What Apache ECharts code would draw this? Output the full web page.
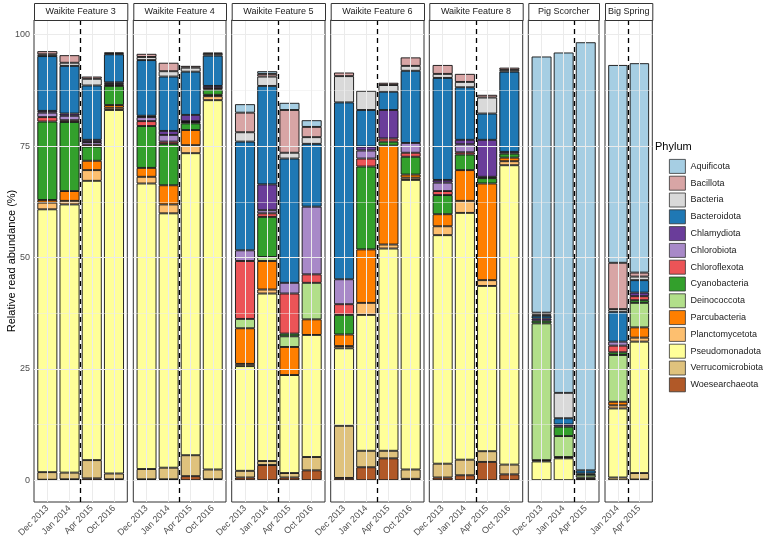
<!DOCTYPE html>
<html><head><meta charset="utf-8">
<script src="https://cdn.jsdelivr.net/npm/echarts@6/dist/echarts.min.js"></script>
<style>html,body{margin:0;padding:0;background:#fff}#c{width:767px;height:542px}</style>
</head><body><div id="c"></div>
<script>
// ---------- DATA ----------
const facets = ['Waikite Feature 3','Waikite Feature 4','Waikite Feature 5','Waikite Feature 6','Waikite Feature 8','Pig Scorcher','Big Spring'];
const facetDates = [
  ['Dec 2013','Jan 2014','Apr 2015','Oct 2016'],
  ['Dec 2013','Jan 2014','Apr 2015','Oct 2016'],
  ['Dec 2013','Jan 2014','Apr 2015','Oct 2016'],
  ['Dec 2013','Jan 2014','Apr 2015','Oct 2016'],
  ['Dec 2013','Jan 2014','Apr 2015','Oct 2016'],
  ['Dec 2013','Jan 2014','Apr 2015'],
  ['Jan 2014','Apr 2015']
];
const splitDate = 'Apr 2015';
const phyla = ['Aquificota','Bacillota','Bacteria','Bacteroidota','Chlamydiota','Chlorobiota','Chloroflexota','Cyanobacteria','Deinococcota','Parcubacteria','Planctomycetota','Pseudomonadota','Verrucomicrobiota','Woesearchaeota'];
const phylaColors = ['#a6cee3','#d8a5a5','#d9d9d9','#1f78b4','#6a3d9a','#a889c8','#ec5457','#33a02c','#b2df8a','#ff7f00','#fdbf6f','#ffff99','#dfc27d','#b15928'];
const yTicks = [0, 25, 50, 75, 100];
const yMinorTicks = [12.5, 37.5, 62.5, 87.5];

// values per bar, in facet order (WF3 x4, WF4 x4, WF5 x4, WF6 x4, WF8 x4, Pig Scorcher x3, Big Spring x2)
const Aquificota        = [0,0,0,0, 0,0,0,0, 1.9,0.6,1.6,1.5, 0,0,0,0, 0,0,0,0, 57.5,76.4,96.1, 44.4,47.0];
const Bacillota         = [0.7,1.7,0.5,0.2, 0.7,1.9,0.4,0.3, 4.4,0.6,9.6,2.3, 0.8,0,0.5,1.9, 2.0,1.8,0.6,0.5, 0.4,0,0, 10.4,0.9];
const Bacteria          = [0.4,0.7,1.5,0.2, 0.7,1.2,0.9,0.4, 2.1,2.1,1.3,1.5, 5.9,4.3,1.5,1.1, 0.9,1.2,3.6,0.4, 0.3,5.7,0, 0.6,0.8];
const Bacteroidota      = [12.3,10.7,12.2,6.3, 12.5,12.2,9.7,6.8, 24.4,22.1,27.9,14.1, 39.7,8.2,4.1,16.2, 22.9,11.8,5.9,18.0, 0.6,1.4,0.7, 6.7,2.8];
const Chlamydiota       = [0.4,0.5,0.5,0.3, 0.3,0.9,1.4,0.5, 0,5.8,0,0, 0,0.9,6.4,0, 0.6,1.0,8.3,0.4, 0.5,0.5,0, 0,0.8];
const Chlorobiota       = [1.0,1.0,0.6,0.2, 0.9,1.5,0.2,0, 2.4,0.7,2.4,15.2, 5.6,1.8,0,2.2, 1.9,1.8,0,0, 0,0,0, 0.9,0];
const Chloroflexota     = [1.0,0.4,0.4,0.3, 1.1,0.5,0.3,0.3, 13.0,0.8,9.0,1.9, 2.4,1.8,0.7,0.9, 0.9,0.5,0.3,0, 0,0,0, 1.5,0.9];
const Cyanobacteria     = [17.6,15.5,3.2,4.3, 9.4,9.3,1.5,1.2, 0,9.0,0.6,0, 4.4,18.6,0.9,4.0, 4.3,3.5,1.2,0.9, 0.6,2.1,0.3, 0.6,0.6];
const Deinococcota      = [0,0,0,0, 0,0,0,0, 2.1,0.9,2.4,8.2, 0,0,0,0, 0,0,0,0, 30.7,4.7,0.6, 10.5,5.5];
const Parcubacteria     = [0.6,2.2,2.1,0.6, 2.0,4.3,3.4,0.3, 8.0,6.4,6.3,3.5, 2.6,12.0,22.2,0.7, 2.7,6.9,21.7,0.8, 0.3,0.3,0, 0.8,2.3];
const Planctomycetota   = [1.5,0.8,2.4,0.5, 1.5,2.0,1.8,0.9, 0.5,0.9,0,0, 0.5,2.7,0.9,0.5, 2.0,2.7,1.3,0.9, 0,0,0, 0.7,0.9];
const Pseudomonadota    = [59.0,60.2,62.7,81.6, 64.1,57.1,67.8,82.9, 23.5,37.6,22.0,27.4, 17.4,30.5,45.4,65.0, 51.3,55.4,37.1,67.2, 4.2,4.9,0, 15.5,29.5];
const Verrucomicrobiota = [1.7,1.5,4.1,1.3, 2.3,2.6,4.7,2.2, 1.5,0.9,1.0,3.0, 11.7,3.7,1.7,2.1, 3.1,3.5,2.4,2.2, 0,0,0.3, 0.6,1.45];
const Woesearchaeota    = [0.1,0.2,0.4,0.2, 0.2,0.2,0.9,0.2, 0.6,3.4,0.6,2.2, 0.5,2.9,4.9,0.3, 0.6,1.1,4.1,1.3, 0,0,0.3, 0,0.15];

const valuesByPhylum = {Aquificota,Bacillota,Bacteria,Bacteroidota,Chlamydiota,Chlorobiota,Chloroflexota,Cyanobacteria,Deinococcota,Parcubacteria,Planctomycetota,Pseudomonadota,Verrucomicrobiota,Woesearchaeota};

// ---------- LAYOUT ----------
const FONT = '"Liberation Sans", Arial, Helvetica, sans-serif';
const panelLeft  = [34, 133.3, 231.7, 330.7, 429.3, 528.3, 605];
const panelRight = [127.3, 226, 325, 424, 522.7, 599, 652.3];
const panelTop = 20, panelBottom = 502, stripTop = 3;
const yMin = -4.9, yMax = 103.3;

const chart = echarts.init(document.getElementById('c'));
const grid = [], xAxis = [], yAxis = [], series = [], graphic = [];
const colorOf = {};
phyla.forEach((p, i) => colorOf[p] = phylaColors[i]);
const stackOrder = phyla.slice().reverse();
const lineBase = {silent: true, symbol: ['none', 'none'], animation: false, label: {show: false}};

let offset = 0;
facets.forEach((fname, fi) => {
  const dates = facetDates[fi];
  const n = dates.length;
  const w = panelRight[fi] - panelLeft[fi];
  const unit = w / (n + 0.2);
  const bg = 2 * fi, bi = 2 * fi + 1;
  grid.push({left: panelLeft[fi], top: panelTop, width: w, height: panelBottom - panelTop,
    show: true, borderColor: '#333333', borderWidth: 1, backgroundColor: '#ffffff'});
  xAxis.push({type: 'value', gridIndex: bg, min: -0.6, max: n - 0.4, show: false});
  yAxis.push({type: 'value', gridIndex: bg, min: yMin, max: yMax,
    axisLine: {show: false}, splitLine: {show: false},
    axisTick: {show: fi === 0, customValues: yTicks, length: 3, lineStyle: {color: '#333333', width: 1}},
    axisLabel: {show: fi === 0, customValues: yTicks, fontSize: 9, color: '#4d4d4d', fontFamily: FONT, margin: 4},
    name: fi === 0 ? 'Relative read abundance (%)' : '', nameLocation: 'middle', nameGap: 17,
    nameMoveOverlap: false,
    nameTextStyle: {fontSize: 11, color: '#000', fontFamily: FONT}});
  grid.push({left: panelLeft[fi] + 0.1 * unit, top: panelTop, width: n * unit, height: panelBottom - panelTop});
  xAxis.push({type: 'category', gridIndex: bi, data: dates, boundaryGap: true,
    axisLine: {show: false}, splitLine: {show: false},
    axisTick: {show: true, alignWithLabel: true, length: 3, lineStyle: {color: '#333333', width: 1}},
    axisLabel: {show: true, interval: 0, rotate: 45, fontSize: 9, color: '#4d4d4d', fontFamily: FONT, margin: 5}});
  yAxis.push({type: 'value', gridIndex: bi, min: yMin, max: yMax, show: false});
  const gl = [];
  yTicks.forEach(v => gl.push({yAxis: v}));
  yMinorTicks.forEach(v => gl.push({yAxis: v, lineStyle: {width: 0.5, color: '#ebebeb', type: 'solid'}}));
  dates.forEach((d, i) => gl.push({xAxis: i}));
  series.push({type: 'line', xAxisIndex: bg, yAxisIndex: bg, data: [], z: 1, silent: true,
    markLine: Object.assign({}, lineBase, {lineStyle: {color: '#ebebeb', width: 1, type: 'solid'}, data: gl})});
  stackOrder.forEach(p => {
    series.push({type: 'bar', name: p, stack: 'facet' + fi, xAxisIndex: bi, yAxisIndex: bi,
      barWidth: 0.9 * unit, z: 2,
      itemStyle: {color: colorOf[p], borderColor: '#111111', borderWidth: 0.9},
      emphasis: {disabled: true},
      data: valuesByPhylum[p].slice(offset, offset + n).map(v => v > 0 ? v : '-')});
  });
  const k = dates.indexOf(splitDate);
  series.push({type: 'line', xAxisIndex: bg, yAxisIndex: bg, data: [], z: 5, silent: true,
    markLine: Object.assign({}, lineBase, {lineStyle: {color: '#000000', width: 1.3, type: [5, 4]}, data: [{xAxis: k - 0.5}]})});
  graphic.push({type: 'rect', left: panelLeft[fi], top: stripTop, z: 10,
    shape: {width: w, height: panelTop - stripTop},
    style: {fill: '#ffffff', stroke: '#333333', lineWidth: 1}});
  graphic.push({type: 'text', x: (panelLeft[fi] + panelRight[fi]) / 2, y: (stripTop + panelTop) / 2 + 0.5, z: 11,
    style: {text: fname, fontSize: 9, fill: '#1a1a1a', fontFamily: FONT, align: 'center', verticalAlign: 'middle'}});
  offset += n;
});

graphic.push({type: 'text', x: 655, y: 147, z: 11,
  style: {text: 'Phylum', fontSize: 11, fill: '#000', fontFamily: FONT, align: 'left', verticalAlign: 'middle'}});

chart.setOption({
  animation: false,
  backgroundColor: '#ffffff',
  grid, xAxis, yAxis, series, graphic,
  legend: {data: phyla, orient: 'vertical', left: 669, top: 159, itemWidth: 16, itemHeight: 14, itemGap: 2,
    icon: 'rect', selectedMode: false, padding: 0,
    textStyle: {fontSize: 9, color: '#1a1a1a', fontFamily: FONT},
    itemStyle: {borderColor: '#333333', borderWidth: 0.8}}
});
</script></body></html>
